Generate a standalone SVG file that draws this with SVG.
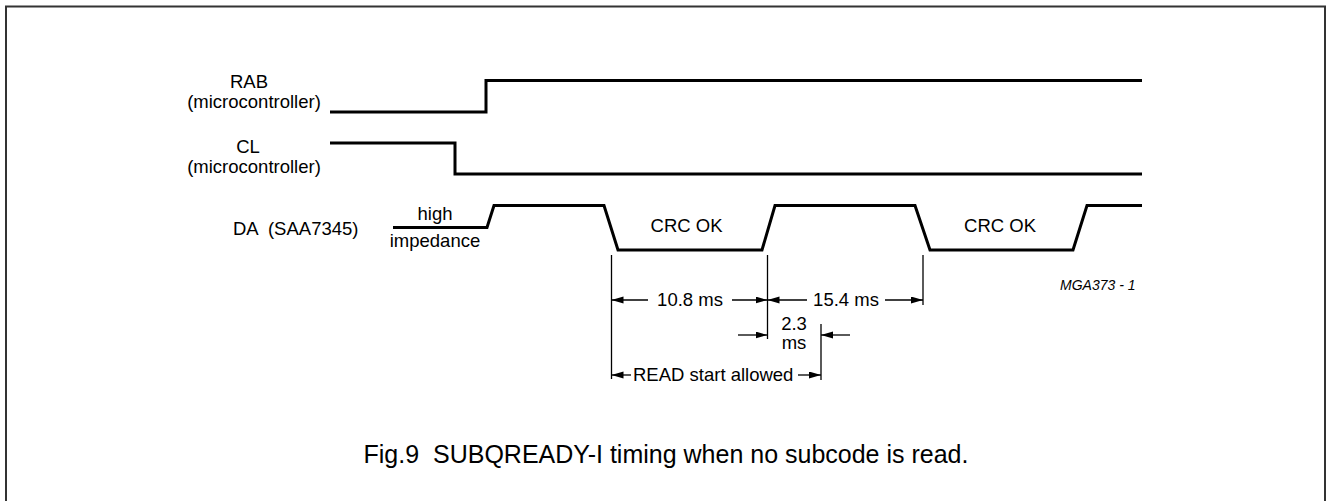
<svg xmlns="http://www.w3.org/2000/svg" width="1327" height="501" viewBox="0 0 1327 501">
<defs>
<style>
.sig{fill:none;stroke:#000;stroke-width:3;stroke-linejoin:miter}
.dim{fill:none;stroke:#000;stroke-width:1.3}
.lbl{font-family:"Liberation Sans",Arial,sans-serif;font-size:18.5px;fill:#000}
.mid{text-anchor:middle}
.ref{font-family:"Liberation Sans",Arial,sans-serif;font-size:14px;font-style:italic;fill:#000}
.cap{font-family:"Liberation Sans",Arial,sans-serif;font-size:25px;fill:#000;text-anchor:middle}
</style>
<marker id="ah" markerUnits="userSpaceOnUse" markerWidth="13" markerHeight="8" refX="12" refY="3.5" orient="auto">
<path d="M0,0 L12,3.5 L0,7 Z" fill="#000"/>
</marker>
</defs>
<rect x="6" y="6.5" width="1319" height="520" fill="#fff" stroke="#333" stroke-width="2"/>

<g id="rab">
<text class="lbl mid" x="249" y="88">RAB</text>
<text class="lbl mid" x="254" y="108">(microcontroller)</text>
<polyline class="sig" points="330,112 486,112 486,80.5 1142,80.5"/>
</g>

<g id="cl">
<text class="lbl mid" x="248" y="153">CL</text>
<text class="lbl mid" x="254" y="173">(microcontroller)</text>
<polyline class="sig" points="330,143 455,143 455,174 1142,174"/>
</g>

<g id="da">
<text class="lbl" x="233" y="235" xml:space="preserve">DA  (SAA7345)</text>
<text class="lbl mid" x="435" y="220">high</text>
<text class="lbl mid" x="435" y="247">impedance</text>
<polyline class="sig" points="393,227.5 487,227.5 494,205.5 604,205.5 618,250 762,250 775,205.5 915,205.5 930,250 1073,250 1087,205.5 1142,205.5"/>
<text class="lbl mid" x="686.5" y="232">CRC OK</text>
<text class="lbl mid" x="1000" y="232">CRC OK</text>
</g>

<g id="connectors">
<line class="dim" x1="611.5" y1="255" x2="611.5" y2="379"/>
<line class="dim" x1="767.5" y1="255" x2="767.5" y2="339"/>
<line class="dim" x1="923" y1="255" x2="923" y2="305"/>
<line class="dim" x1="821" y1="324" x2="821" y2="380"/>

<line class="dim" x1="648" y1="300" x2="611.5" y2="300" marker-end="url(#ah)"/>
<line class="dim" x1="732" y1="300" x2="767.5" y2="300" marker-end="url(#ah)"/>
<line class="dim" x1="807" y1="300" x2="767.5" y2="300" marker-end="url(#ah)"/>
<line class="dim" x1="885" y1="300" x2="923" y2="300" marker-end="url(#ah)"/>

<line class="dim" x1="738" y1="335" x2="767.5" y2="335" marker-end="url(#ah)"/>
<line class="dim" x1="850" y1="335" x2="821" y2="335" marker-end="url(#ah)"/>

<line class="dim" x1="631" y1="375" x2="611.5" y2="375" marker-end="url(#ah)"/>
<line class="dim" x1="798" y1="375" x2="821" y2="375" marker-end="url(#ah)"/>
</g>

<g id="labels">
<text class="lbl mid" x="690" y="306">10.8 ms</text>
<text class="lbl mid" x="846" y="306">15.4 ms</text>
<text class="lbl mid" x="794" y="330">2.3</text>
<text class="lbl mid" x="794" y="349">ms</text>
<text class="lbl" x="633" y="381">READ start allowed</text>
<text class="ref" x="1060" y="290">MGA373 - 1</text>
</g>

<g id="caption">
<text class="cap" x="666" y="463" xml:space="preserve">Fig.9  SUBQREADY-I timing when no subcode is read.</text>
</g>
</svg>
